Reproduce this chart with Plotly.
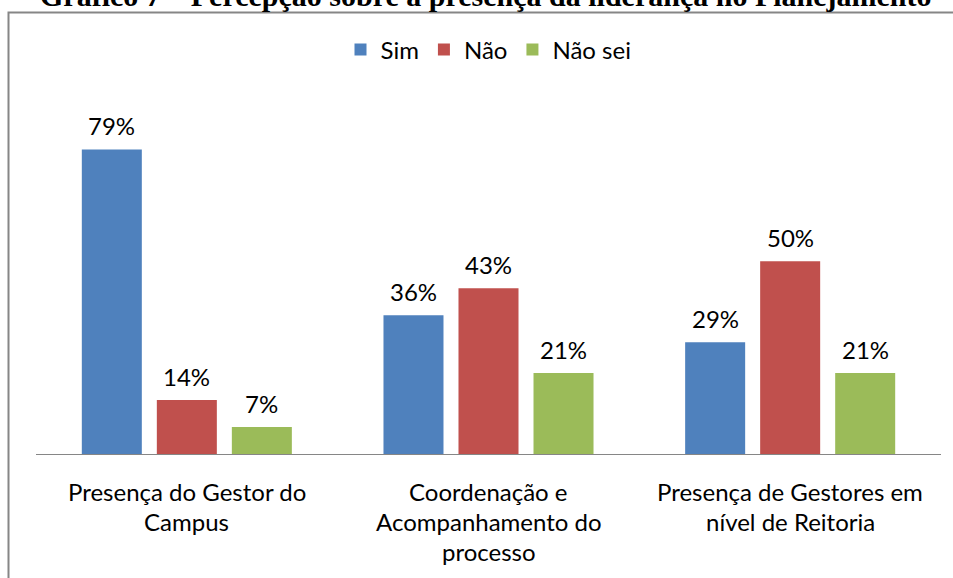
import plotly.graph_objects as go

categories = ["Presença do Gestor do<br>Campus",
              "Coordenação e<br>Acompanhamento do<br>processo",
              "Presença de Gestores em<br>nível de Reitoria"]
series_names = ["Sim", "Não", "Não sei"]
sim = [79, 36, 29]
nao = [14, 43, 50]
nao_sei = [7, 21, 21]
colors = ["#4F81BD", "#C0504D", "#9BBB59"]
title_text = "Gráfico 7 – Percepção sobre a presença da liderança no Planejamento"

FONT = "Lato"
FS = 24
values = [sim, nao, nao_sei]

fig = go.Figure()
for name, vals, col in zip(series_names, values, colors):
    fig.add_trace(go.Bar(x=categories, y=vals, name=name, marker_color=col,
                         marker_line_width=0, hoverinfo="skip"))

annotations = []
# data labels
for i, vals in enumerate(values):
    for c, v in zip(categories, vals):
        annotations.append(dict(x=c, y=v, xref="x", yref="y", text=f"{v}%",
                                showarrow=False, xshift=(i - 1) * 75, yshift=24,
                                font=dict(family=FONT, size=FS, color="#000")))
# category labels (line by line)
for c in categories:
    for j, line in enumerate(c.split("<br>")):
        annotations.append(dict(x=c, y=0, xref="x", yref="y", text=line,
                                showarrow=False, yshift=-37 - 30 * j,
                                font=dict(family=FONT, size=FS, color="#000")))
# title (cut at top)
annotations.append(dict(x=(486 - 36) / 905, y=1.0, xref="paper", yref="paper",
                        text=f"<b>{title_text}</b>",
                        showarrow=False, yanchor="middle", yshift=107 + 5,
                        font=dict(family="Liberation Serif", size=30, color="#000")))

fig.update_layout(
    width=953, height=578,
    margin=dict(l=36, r=12, t=107, b=124),
    paper_bgcolor="white", plot_bgcolor="white",
    barmode="group", bargap=0.254, bargroupgap=0.2,
    showlegend=True,
    legend=dict(orientation="h", x=0.5, xanchor="center", y=1.0, yanchor="middle",
                yref="paper", font=dict(family=FONT, size=FS, color="#000")),
    xaxis=dict(showticklabels=False, showline=True, linecolor="#868686", linewidth=1,
               ticks="", showgrid=False, zeroline=False),
    yaxis=dict(range=[0, 90], visible=False, showgrid=False, zeroline=False),
    annotations=annotations,
    shapes=[dict(type="rect", xref="paper", yref="paper",
                 x0=(8.5 - 36) / 905, x1=(970 - 36) / 905,
                 y0=(454 - 600) / 347, y1=(454 - 12.5) / 347,
                 line=dict(color="#868686", width=2))],
)
fig.update_layout(legend_y=(454 - 50) / 347)

fig.write_html("out.html", config={"displayModeBar": False},
               post_script="document.body.style.margin='0';")
